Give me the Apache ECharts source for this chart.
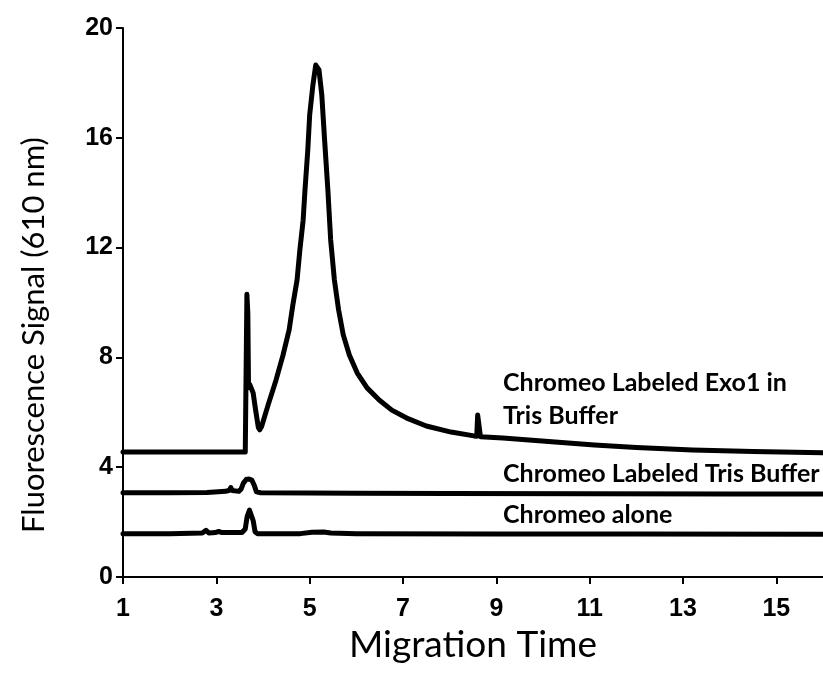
<!DOCTYPE html>
<html>
<head>
<meta charset="utf-8">
<script src="https://cdn.jsdelivr.net/npm/echarts@6/dist/echarts.min.js"></script>
<style>
  html, body { margin: 0; padding: 0; background: #fff; }
  #chart { width: 823px; height: 677px; }
</style>
</head>
<body>
<div id="chart"></div>
<script>
// Electropherogram traces: [migration time, fluorescence signal]
const exo1InTris = [
  [1.00, 4.55], [2.00, 4.55], [3.00, 4.55], [3.62, 4.55], [3.645, 4.60],
  [3.655, 10.30], [3.675, 9.60], [3.69, 6.90], [3.72, 7.00], [3.75, 6.98],
  [3.79, 6.70], [3.84, 6.10], [3.90, 5.45], [3.93, 5.36], [3.97, 5.48],
  [4.11, 6.27], [4.28, 7.18], [4.43, 8.09], [4.56, 9.00], [4.64, 9.91],
  [4.73, 10.82], [4.79, 11.91], [4.86, 13.00], [4.90, 14.10], [4.96, 15.56],
  [5.00, 16.83], [5.07, 17.93], [5.13, 18.65], [5.20, 18.47], [5.26, 17.56],
  [5.32, 15.92], [5.39, 14.10], [5.45, 12.28], [5.53, 10.82], [5.62, 9.73],
  [5.72, 8.82], [5.85, 8.09], [6.02, 7.43], [6.23, 6.89], [6.49, 6.45],
  [6.76, 6.08], [7.08, 5.79], [7.50, 5.50], [8.03, 5.28], [8.52, 5.14],
  [8.58, 5.13], [8.60, 5.90], [8.64, 5.90], [8.66, 5.11], [9.14, 5.06],
  [10.26, 4.92], [11.10, 4.81], [12.00, 4.72], [13.20, 4.63], [14.50, 4.57],
  [16.00, 4.53]
];

const labeledTris = [
  [1.00, 3.07], [2.00, 3.07], [2.80, 3.08], [3.20, 3.12], [3.28, 3.16],
  [3.31, 3.26], [3.34, 3.15], [3.48, 3.12], [3.53, 3.20], [3.58, 3.42],
  [3.64, 3.55], [3.70, 3.57], [3.76, 3.53], [3.81, 3.35], [3.86, 3.10],
  [3.95, 3.07], [6.00, 3.05], [8.00, 3.04], [11.00, 3.03], [14.00, 3.02],
  [16.00, 3.02]
];

const chromeoAlone = [
  [1.00, 1.58], [2.00, 1.58], [2.70, 1.60], [2.78, 1.70], [2.84, 1.60],
  [2.98, 1.62], [3.05, 1.66], [3.12, 1.62], [3.55, 1.62], [3.62, 1.75],
  [3.66, 2.20], [3.71, 2.44], [3.75, 2.40], [3.79, 2.05], [3.83, 1.65],
  [3.88, 1.58], [4.80, 1.58], [5.05, 1.63], [5.30, 1.64], [5.45, 1.60],
  [6.00, 1.58], [9.00, 1.57], [12.00, 1.57], [16.00, 1.56]
];

const xTicks = [1, 3, 5, 7, 9, 11, 13, 15];
const traceNames = ['Chromeo Labeled Exo1 in Tris Buffer', 'Chromeo Labeled Tris Buffer', 'Chromeo alone'];

const chart = echarts.init(document.getElementById('chart'), null, { renderer: 'canvas' });

const tickFont = { fontFamily: 'Liberation Sans', fontWeight: 'bold', fontSize: 25, color: '#000' };
const labelFont = { fontFamily: 'Lato', fontWeight: 'bold', fontSize: 25, fill: '#000' };

function trace(name, data) {
  return {
    name: name,
    type: 'line',
    data: data,
    showSymbol: false,
    smooth: false,
    lineStyle: { color: '#000', width: 5, join: 'round', cap: 'round' },
    silent: true,
    animation: false,
    z: 3
  };
}

chart.setOption({
  backgroundColor: '#fff',
  animation: false,
  grid: { left: 123, right: -7, top: 28, bottom: 100 },
  xAxis: {
    type: 'value',
    min: 1,
    max: 16,
    name: 'Migration Time',
    nameLocation: 'middle',
    nameGap: 48,
    nameTextStyle: { fontFamily: 'Lato', fontSize: 37, color: '#000' },
    axisLine: { show: true, onZero: false, lineStyle: { color: '#000', width: 2 } },
    axisTick: { show: true, length: 7, lineStyle: { color: '#000', width: 2 }, customValues: xTicks },
    axisLabel: { margin: 20, customValues: xTicks, ...tickFont },
    splitLine: { show: false }
  },
  yAxis: {
    type: 'value',
    min: 0,
    max: 20,
    interval: 4,
    axisLine: { show: true, lineStyle: { color: '#000', width: 2 } },
    axisTick: { show: true, length: 7, lineStyle: { color: '#000', width: 2 } },
    axisLabel: { margin: 10, ...tickFont },
    splitLine: { show: false }
  },
  series: [
    trace(traceNames[0], exo1InTris),
    trace(traceNames[1], labeledTris),
    trace(traceNames[2], chromeoAlone)
  ],
  graphic: [
    {
      type: 'text', x: 34, y: 335, rotation: Math.PI / 2,
      style: {
        text: 'Fluorescence Signal (610 nm)', fontFamily: 'Lato', fontSize: 31, fill: '#000',
        align: 'center', verticalAlign: 'middle'
      }
    },
    { type: 'text', left: 503, top: 370, style: { text: 'Chromeo Labeled Exo1 in', ...labelFont } },
    { type: 'text', left: 503, top: 403, style: { text: 'Tris Buffer', ...labelFont } },
    { type: 'text', left: 503, top: 461, style: { text: 'Chromeo Labeled Tris Buffer', ...labelFont } },
    { type: 'text', left: 503, top: 502, style: { text: 'Chromeo alone', ...labelFont } }
  ]
});
</script>
</body>
</html>
